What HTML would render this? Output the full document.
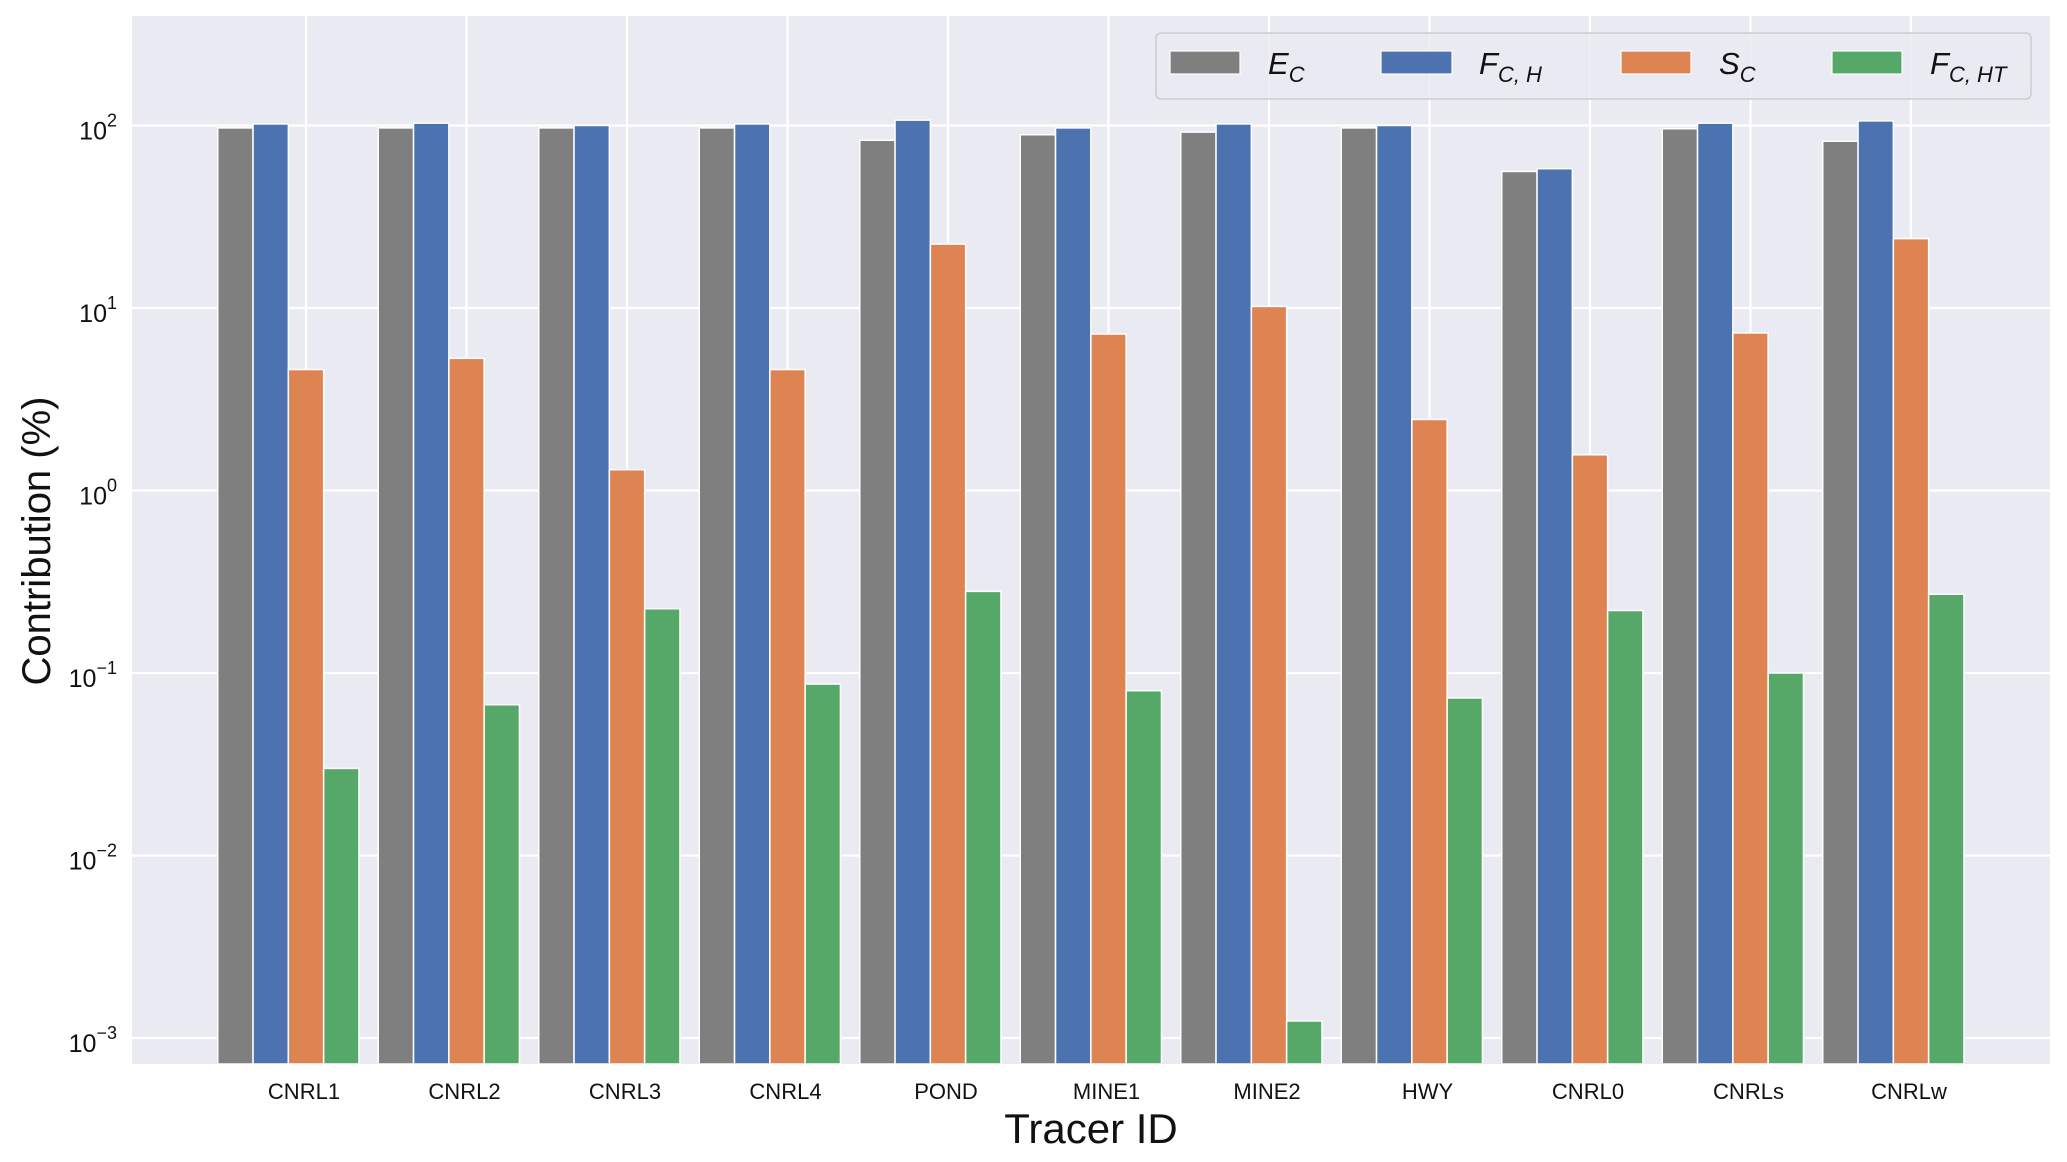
<!DOCTYPE html>
<html><head><meta charset="utf-8"><style>
html,body{margin:0;padding:0;background:#fff;}
svg{display:block;font-family:"Liberation Sans",Arial,sans-serif;}
</style></head><body>
<svg id="chart" width="2067" height="1162" viewBox="0 0 2067 1162" xmlns="http://www.w3.org/2000/svg">
<rect x="132" y="16" width="1918" height="1048" fill="#eaeaf2"/>
<g id="grid"></g>
<g id="bars"></g>
<g id="yticks"></g>
<g id="xticks"></g>
<text x="1091" y="1143" font-size="42" text-anchor="middle" fill="#111">Tracer ID</text>
<text transform="translate(50,541) rotate(-90)" font-size="40" text-anchor="middle" fill="#111">Contribution (%)</text>
<g>
<rect x="1156" y="33" width="875" height="66" rx="5" fill="#eaeaf2" fill-opacity="0.8" stroke="#ccc" stroke-width="1.5"/>
<g><rect x="1170" y="51" width="70" height="23" fill="#7f7f7f" stroke="#fff" stroke-width="1.2"/><text x="1268" y="74" font-size="31" font-style="italic" fill="#111">E<tspan font-size="22" dy="8">C</tspan></text></g>
<g><rect x="1381" y="51" width="71" height="23" fill="#4c72b0" stroke="#fff" stroke-width="1.2"/><text x="1479" y="74" font-size="31" font-style="italic" fill="#111">F<tspan font-size="22" dy="8">C, H</tspan></text></g>
<g><rect x="1621" y="51" width="70" height="23" fill="#dd8452" stroke="#fff" stroke-width="1.2"/><text x="1719" y="74" font-size="31" font-style="italic" fill="#111">S<tspan font-size="22" dy="8">C</tspan></text></g>
<g><rect x="1832" y="51" width="70" height="23" fill="#55a868" stroke="#fff" stroke-width="1.2"/><text x="1930" y="74" font-size="31" font-style="italic" fill="#111">F<tspan font-size="22" dy="8">C, HT</tspan></text></g>
</g>
</svg>
<script>
const categories = ["CNRL1","CNRL2","CNRL3","CNRL4","POND","MINE1","MINE2","HWY","CNRL0","CNRLs","CNRLw"];
const seriesEC  = [97, 97, 97, 97, 83, 89, 92, 97, 56, 96, 82];
const seriesFCH = [102, 103, 100, 102, 107, 97, 102, 100, 58, 103, 106];
const seriesSC  = [4.6, 5.3, 1.3, 4.6, 22.4, 7.2, 10.2, 2.45, 1.57, 7.3, 24];
const seriesFCHT= [0.030, 0.067, 0.225, 0.087, 0.28, 0.080, 0.00124, 0.073, 0.22, 0.10, 0.27];
const yTickExps = [-3, -2, -1, 0, 1, 2];

const NS = "http://www.w3.org/2000/svg";
const PL=132, PR=2050, PT=16, PB=1064;
function xScale(i){ return 306 + i*160.5; }
function yScale(v){ return 125.5 + 182.5*(2 - Math.log10(v)); }
function mk(tag, attrs, parent){ const e=document.createElementNS(NS,tag); for(const k in attrs) e.setAttribute(k,attrs[k]); parent.appendChild(e); return e; }

const grid=document.getElementById('grid');
yTickExps.forEach(p=>{
  const y=yScale(Math.pow(10,p));
  const l=mk('line',{x1:PL,x2:PR,y1:y,y2:y,stroke:'#fff','stroke-width':2.2},grid);
  
  
});
categories.forEach((c,i)=>{
  const x=xScale(i);
  const l=mk('line',{x1:x,x2:x,y1:PT,y2:PB,stroke:'#fff','stroke-width':2.2},grid);
  
  
});

const bars=document.getElementById('bars');
const series=[seriesEC,seriesFCH,seriesSC,seriesFCHT];
const colors=['#7f7f7f','#4c72b0','#dd8452','#55a868'];
const sNames=['ec','fch','sc','fcht'];
const bw=35.3;
series.forEach((vals,s)=>{
  vals.forEach((v,i)=>{
    const bx=xScale(i)+(s-2.5)*bw;
    const y=yScale(v);
    const r=mk('rect',{x:bx,y:y,width:bw,height:PB-y,fill:colors[s],stroke:'#fff','stroke-width':1.5},bars);
    
    
  });
});

const yt=document.getElementById('yticks');
yTickExps.forEach(p=>{
  const y=yScale(Math.pow(10,p));
  const t=mk('text',{x:117,y:y+14,'font-size':25,'text-anchor':'end',fill:'#111'},yt);
  
  
  t.textContent='10';
  const s=mk('tspan',{'font-size':18,dy:-13},t);
  s.textContent=(p<0?'\u2212':'')+Math.abs(p);
});

const xt=document.getElementById('xticks');
categories.forEach((c,i)=>{
  const t=mk('text',{x:xScale(i)-2,y:1099,'font-size':22,'text-anchor':'middle',fill:'#111'},xt);
  
  
  t.textContent=c;
});
</script>
</body></html>
